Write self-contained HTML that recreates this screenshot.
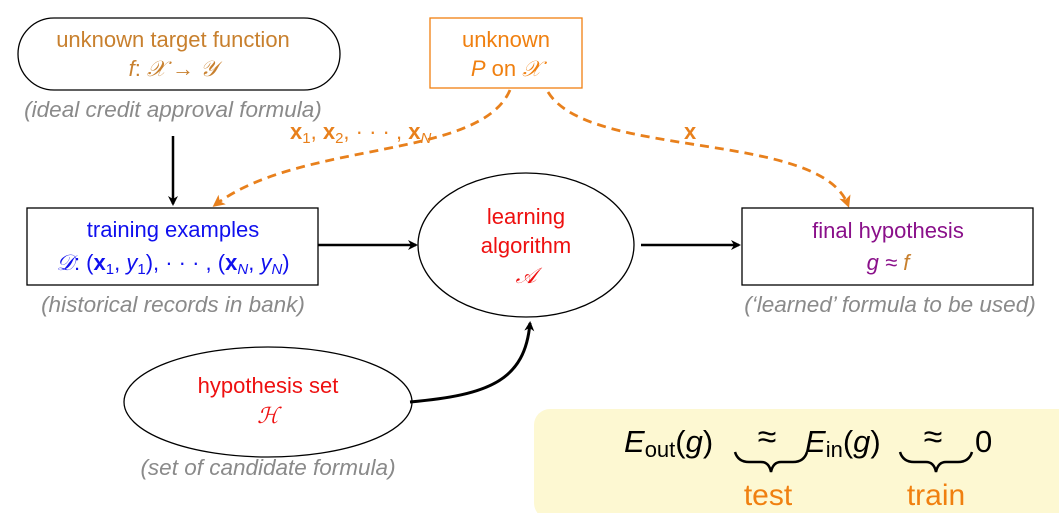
<!DOCTYPE html>
<html><head><meta charset="utf-8"><style>
body{margin:0;background:#fff}
svg text{font-family:"Liberation Sans",sans-serif}
.g{fill:#8a8a8a;font-style:italic;font-size:22.5px}
</style></head><body>
<svg width="1059" height="513" viewBox="0 0 1059 513" xmlns="http://www.w3.org/2000/svg">
<defs>
<marker id="ab" markerWidth="10" markerHeight="10" refX="8" refY="5" orient="auto" markerUnits="userSpaceOnUse"><path d="M0,0 L10,5 L0,10 L3,5 z" fill="#000"/></marker>
<marker id="ao" markerWidth="12" markerHeight="12" refX="9" refY="6" orient="auto" markerUnits="userSpaceOnUse"><path d="M0,0 L12,6 L0,12 L3,6 z" fill="#e8801c"/></marker>
</defs>
<rect x="534" y="409" width="540" height="110" rx="16" fill="#fdf8d2"/>
<rect x="18" y="18" width="322" height="72" rx="36" fill="#fff" stroke="#000" stroke-width="1.3"/>
<text x="173" y="47" text-anchor="middle" font-size="22" fill="#c8802e">unknown target function</text>
<text x="173" y="76" text-anchor="middle" font-size="22" fill="#c8802e"><tspan font-style="italic">f</tspan>: <tspan font-style="italic">𝒳</tspan> → <tspan font-style="italic">𝒴</tspan></text>
<text x="173" y="117" text-anchor="middle" class="g">(ideal credit approval formula)</text>
<line x1="173" y1="136" x2="173" y2="204" stroke="#000" stroke-width="2.5" marker-end="url(#ab)"/>
<rect x="430" y="18" width="152" height="70" fill="#fff" stroke="#f08010" stroke-width="1.3"/>
<text x="506" y="47" text-anchor="middle" font-size="22" fill="#f08010">unknown</text>
<text x="506" y="76" text-anchor="middle" font-size="22" fill="#f08010"><tspan font-style="italic">P</tspan> on <tspan font-style="italic">𝒳</tspan></text>
<path d="M510,90 C480,160 300,140 215,205" fill="none" stroke="#e8801c" stroke-width="2.8" stroke-dasharray="9,6" marker-end="url(#ao)"/>
<path d="M548,92 C590,160 820,130 848,205" fill="none" stroke="#e8801c" stroke-width="2.8" stroke-dasharray="9,6" marker-end="url(#ao)"/>
<text x="290" y="139" font-size="22" fill="#e8801c"><tspan font-weight="bold">x</tspan><tspan font-size="15" dy="4">1</tspan><tspan dy="-4">, </tspan><tspan font-weight="bold">x</tspan><tspan font-size="15" dy="4">2</tspan><tspan dy="-4">, · · · , </tspan><tspan font-weight="bold">x</tspan><tspan font-size="15" dy="4" font-style="italic">N</tspan></text>
<text x="684" y="139" font-size="22" font-weight="bold" fill="#e8801c">x</text>
<rect x="27" y="208" width="291" height="77" fill="#fff" stroke="#000" stroke-width="1.3"/>
<text x="173" y="237" text-anchor="middle" font-size="22" fill="#1010ee">training examples</text>
<text x="173" y="270" text-anchor="middle" font-size="22" fill="#1010ee"><tspan font-style="italic">𝒟</tspan>: (<tspan font-weight="bold">x</tspan><tspan font-size="15" dy="4">1</tspan><tspan dy="-4">, </tspan><tspan font-style="italic">y</tspan><tspan font-size="15" dy="4">1</tspan><tspan dy="-4">), · · · , (</tspan><tspan font-weight="bold">x</tspan><tspan font-size="15" dy="4" font-style="italic">N</tspan><tspan dy="-4">, </tspan><tspan font-style="italic">y</tspan><tspan font-size="15" dy="4" font-style="italic">N</tspan><tspan dy="-4">)</tspan></text>
<text x="173" y="312" text-anchor="middle" class="g">(historical records in bank)</text>
<line x1="318" y1="245" x2="416" y2="245" stroke="#000" stroke-width="2.5" marker-end="url(#ab)"/>
<ellipse cx="526" cy="245" rx="108" ry="72" fill="#fff" stroke="#000" stroke-width="1.3"/>
<text x="526" y="224" text-anchor="middle" font-size="22" fill="#ee1010">learning</text>
<text x="526" y="253" text-anchor="middle" font-size="22" fill="#ee1010">algorithm</text>
<text x="526" y="283" text-anchor="middle" font-size="22" font-style="italic" fill="#ee1010">𝒜</text>
<line x1="641" y1="245" x2="739" y2="245" stroke="#000" stroke-width="2.5" marker-end="url(#ab)"/>
<rect x="742" y="208" width="291" height="77" fill="#fff" stroke="#000" stroke-width="1.3"/>
<text x="888" y="238" text-anchor="middle" font-size="22" fill="#8a108a">final hypothesis</text>
<text x="888" y="270" text-anchor="middle" font-size="22" font-style="italic"><tspan fill="#8a108a">g ≈ </tspan><tspan fill="#c8802e">f</tspan></text>
<text x="890" y="312" text-anchor="middle" class="g">(‘learned’ formula to be used)</text>
<ellipse cx="268" cy="402" rx="144" ry="55" fill="#fff" stroke="#000" stroke-width="1.3"/>
<text x="268" y="393" text-anchor="middle" font-size="22" fill="#ee1010">hypothesis set</text>
<text x="268" y="423" text-anchor="middle" font-size="22" font-style="italic" fill="#ee1010">ℋ</text>
<path d="M410,402 C490,395 525,380 530,323" fill="none" stroke="#000" stroke-width="3" marker-end="url(#ab)"/>
<text x="268" y="475" text-anchor="middle" class="g">(set of candidate formula)</text>
<g font-size="31">
<text x="624" y="452"><tspan font-style="italic">E</tspan><tspan font-size="22" dy="5">out</tspan><tspan dy="-5">(</tspan><tspan font-style="italic">g</tspan>)</text>
<text x="767" y="448" font-size="34" text-anchor="middle">≈</text>
<text x="805" y="452"><tspan font-style="italic">E</tspan><tspan font-size="22" dy="5">in</tspan><tspan dy="-5">(</tspan><tspan font-style="italic">g</tspan>)</text>
<text x="933" y="448" font-size="34" text-anchor="middle">≈</text>
<text x="975" y="452">0</text>
</g>
<path d="M735,452 q3,10 14,10 h12 q8,0 10,10 q2,-10 10,-10 h12 q11,0 14,-10" fill="none" stroke="#000" stroke-width="2.5"/>
<path d="M900,452 q3,10 14,10 h12 q8,0 10,10 q2,-10 10,-10 h12 q11,0 14,-10" fill="none" stroke="#000" stroke-width="2.5"/>
<text x="768" y="505" text-anchor="middle" font-size="30" fill="#f08010">test</text>
<text x="936" y="505" text-anchor="middle" font-size="30" fill="#f08010">train</text>
</svg>
</body></html>
